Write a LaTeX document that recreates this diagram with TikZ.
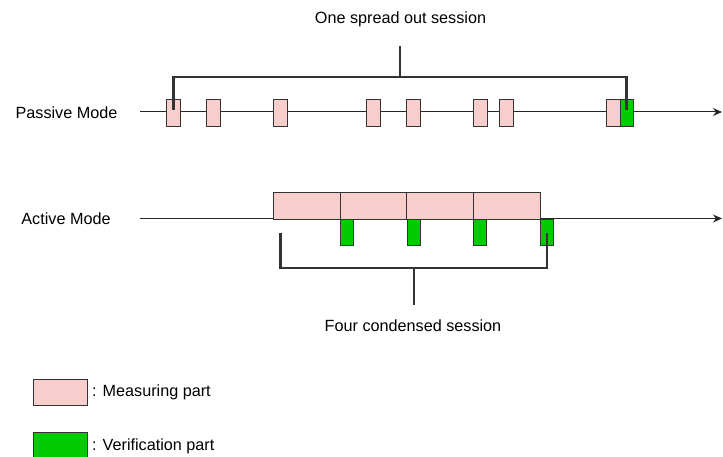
\documentclass[tikz,border=0pt]{standalone}
\usepackage{fontspec}
\setmainfont{Liberation Sans}
\usetikzlibrary{arrows.meta}
\definecolor{meas}{HTML}{F8CECC}
\definecolor{verif}{HTML}{00CC00}
\definecolor{edge}{HTML}{333333}
\begin{document}
\begin{tikzpicture}[x=1pt,y=-1pt,
  lbl/.style={font=\fontsize{16.2}{19}\selectfont, inner sep=0pt},
  pbox/.style={draw=edge, line width=0.9pt, fill=meas, minimum width=14pt, minimum height=27pt, inner sep=0pt},
  gbox/.style={draw=edge, line width=0.9pt, fill=verif, minimum width=13.4pt, minimum height=27pt, inner sep=0pt},
  abox/.style={draw=edge, line width=0.9pt, fill=meas, minimum width=67pt, minimum height=26.7pt, inner sep=0pt},
  agbox/.style={draw=edge, line width=0.9pt, fill=verif, minimum width=13.4pt, minimum height=26.7pt, inner sep=0pt},
  axis/.style={draw=black!85, line width=1pt, -{Stealth[length=9pt,width=8pt]}},
  brace/.style={draw=edge, line width=2.4pt},
]
\useasboundingbox (0,0) rectangle (723,457);

% labels
\node[lbl] (passive) at (66.5,112.5) {Passive Mode};
\node[lbl] (active) at (66,218.5) {Active Mode};

% axes
\coordinate (ps) at (140,112);
\coordinate (pe) at (722,112);
\coordinate (as) at (140,218.5);
\coordinate (ae) at (722,218.5);
\draw[axis] (ps) -- (pe);
\draw[axis] (as) -- (ae);

% passive boxes
\node[pbox] (p1) at (173.3,112.5) {};
\node[pbox] (p2) at (213.4,112.5) {};
\node[pbox] (p3) at (280.2,112.5) {};
\node[pbox] (p4) at (373.4,112.5) {};
\node[pbox] (p5) at (413.5,112.5) {};
\node[pbox] (p6) at (480,112.5) {};
\node[pbox] (p7) at (506.8,112.5) {};
\node[pbox] (p8) at (613.8,112.5) {};
\node[gbox] (pg) at (627.2,112.5) {};

% active boxes
\node[abox] (a1) at (306.5,205.7) {};
\node[abox] (a2) at (373.5,205.7) {};
\node[abox] (a3) at (440.2,205.7) {};
\node[abox] (a4) at (506.9,205.7) {};
\node[agbox] (g1) at (346.8,232.4) {};
\node[agbox] (g2) at (413.8,232.4) {};
\node[agbox] (g3) at (480.2,232.4) {};
\node[agbox] (g4) at (547,232.4) {};

% top bracket
\coordinate (tl) at (173.5,110);
\coordinate (tr) at (626.6,110);
\coordinate (tm) at (399.7,77);
\coordinate (tt) at (399.7,46);
\draw[brace] (tl) -- (173.5,77) -- (626.6,77) -- (tr);
\draw[brace] (tm) -- (tt);
\node[lbl] (one) at (400.5,19) {One spread out session};

% bottom bracket
\coordinate (bl) at (280.5,233);
\coordinate (br) at (547,233);
\coordinate (bm) at (413.7,268);
\coordinate (bb) at (413.7,305);
\draw[brace] (bl) -- (280.5,268) -- (547,268) -- (br);
\draw[brace] (bm) -- (bb);
\node[lbl] (four) at (413,326) {Four condensed session};

% legend
\node[draw=edge, line width=0.9pt, fill=meas, minimum width=54pt, minimum height=26.7pt, inner sep=0pt] (lm) at (60,392.3) {};
\node[lbl, anchor=west] (lmt) at (92,392.5) {: Measuring part};
\node[draw=edge, line width=0.9pt, fill=verif, minimum width=54pt, minimum height=27pt, inner sep=0pt] (lv) at (60,445.5) {};
\node[lbl, anchor=west] (lvt) at (92,446) {: Verification part};
\end{tikzpicture}
\end{document}
